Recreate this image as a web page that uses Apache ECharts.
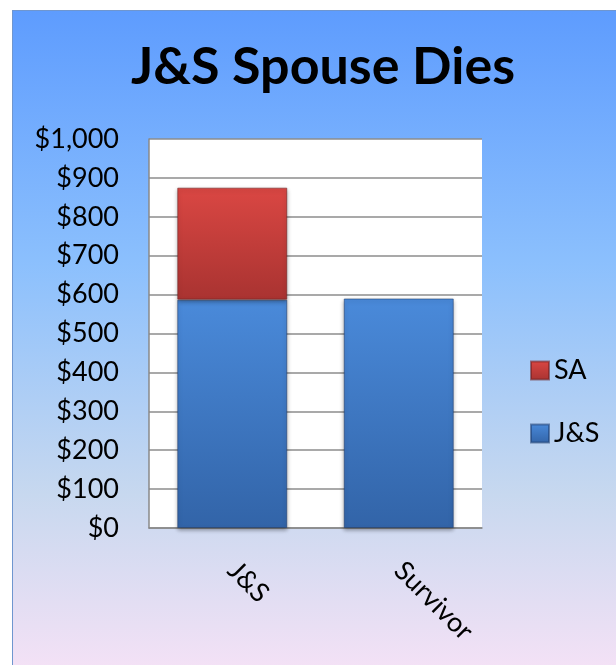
<!DOCTYPE html>
<html>
<head>
<meta charset="utf-8">
<script src="https://cdn.jsdelivr.net/npm/echarts@6/dist/echarts.min.js"></script>
<style>
  html, body { margin: 0; padding: 0; background: #ffffff; }
  #panel {
    position: absolute; left: 12px; top: 10px; width: 620px; height: 670px;
    border-left: 1.5px solid #6f96cf; border-top: 1.5px solid #6f96cf;
    background: linear-gradient(to bottom, #5e9cfe 0%, #8cc0fd 38%, #c7d8ef 72%, #f7e2f6 100%);
  }
  #chart { position: absolute; left: 0; top: 0; width: 616px; height: 665px; }
</style>
</head>
<body>
<div id="panel"></div>
<div id="chart"></div>
<script>
// Monthly benefit after the spouse dies, stacked by source
const categories = ['J&S', 'Survivor'];
const jsValues = [587, 590];
const saValues = [288, '-'];
const yTicks = { min: 0, max: 1000, step: 100 };

const FONT = 'Lato';

function vgrad(top, bottom) {
  return new echarts.graphic.LinearGradient(0, 0, 0, 1, [
    { offset: 0, color: top },
    { offset: 1, color: bottom }
  ]);
}

const chart = echarts.init(document.getElementById('chart'), null, { renderer: 'canvas' });

chart.setOption({
  backgroundColor: 'transparent',
  animation: false,
  title: {
    text: 'J&S Spouse Dies',
    left: 318,
    textAlign: 'center',
    top: 36,
    textStyle: { fontFamily: FONT, fontWeight: 'bold', fontSize: 52, color: '#000' }
  },
  legend: {
    orient: 'vertical',
    left: 525,
    top: 352,
    icon: 'rect',
    itemWidth: 18,
    itemHeight: 18,
    itemGap: 36,
    data: ['SA', 'J&S'],
    textStyle: { fontFamily: FONT, fontSize: 27, color: '#000', padding: [0, 0, 0, 0] }
  },
  grid: {
    left: 149, top: 139, right: 134, bottom: 137,
    show: true, backgroundColor: '#ffffff', borderWidth: 0
  },
  xAxis: {
    type: 'category',
    data: categories,
    axisLine: { lineStyle: { color: '#888888', width: 1.5 } },
    axisTick: { show: false },
    axisLabel: {
      rotate: -45, margin: 38, interval: 0,
      fontFamily: FONT, fontSize: 27, color: '#000'
    }
  },
  yAxis: {
    type: 'value',
    min: yTicks.min, max: yTicks.max, interval: yTicks.step,
    axisLine: { show: true, lineStyle: { color: '#888888', width: 1.5 } },
    axisTick: { show: false },
    splitLine: { lineStyle: { color: '#8c8c8c', width: 1.5 } },
    axisLabel: {
      margin: 30, fontFamily: FONT, fontSize: 27, color: '#000',
      formatter: v => '$' + v.toLocaleString('en-US')
    }
  },
  series: [
    {
      name: 'J&S', type: 'bar', stack: 'total', data: jsValues,
      barWidth: 110,
      itemStyle: {
        color: vgrad('#4a8ada', '#3264a8'),
        borderColor: 'rgba(30,60,110,0.55)', borderWidth: 1,
        shadowColor: 'rgba(0,0,0,0.35)', shadowBlur: 4, shadowOffsetY: 2
      }
    },
    {
      name: 'SA', type: 'bar', stack: 'total', data: saValues,
      barWidth: 110,
      itemStyle: {
        color: vgrad('#da4743', '#a93331'),
        borderColor: 'rgba(110,30,30,0.55)', borderWidth: 1,
        shadowColor: 'rgba(0,0,0,0.35)', shadowBlur: 4, shadowOffsetY: 2
      }
    }
  ]
});
</script>
</body>
</html>
